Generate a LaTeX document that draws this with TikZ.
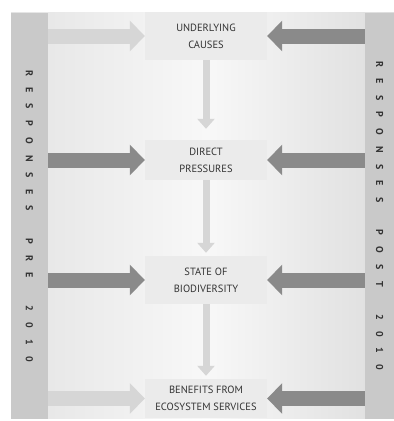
\documentclass[tikz,border=0pt]{standalone}
\usepackage{fontspec}
\setmainfont{PT Sans}
\usetikzlibrary{arrows.meta}
\definecolor{barGray}{HTML}{C9C9C9}
\definecolor{boxGray}{HTML}{EBEBEB}
\definecolor{darkArrow}{HTML}{8A8A8A}
\definecolor{lightArrow}{HTML}{D6D6D6}
\definecolor{txtGray}{HTML}{333333}
\definecolor{bgLeft}{HTML}{E4E4E4}
\definecolor{bgMid}{HTML}{F8F8F8}
\definecolor{bgRight}{HTML}{DDDDDD}
\newcommand{\barfont}{\fontsize{10}{10}\selectfont\bfseries\addfontfeature{LetterSpace=112}}

\begin{document}
\begin{tikzpicture}[x=1pt,y=-1pt,
	stage/.style={fill=boxGray,text=txtGray,minimum width=122pt,align=center,
		font=\fontsize{10.5}{17}\selectfont,inner sep=0pt},
	sidebar/.style={fill=barGray,text=txtGray,minimum height=406pt,inner sep=0pt},
	flow/.style={line width=15pt,-{Triangle[length=15pt,width=30pt]}},
	down/.style={lightArrow,line width=7pt,-{Triangle[length=10pt,width=17pt]}}]
	\useasboundingbox (0,0) rectangle (394,421);
	\shade[left color=bgLeft,right color=bgMid] (11,12) rectangle (206,418);
	\shade[left color=bgMid,right color=bgRight] (206,12) rectangle (394,418);

	% side bars
	\node[sidebar,minimum width=37pt] (pre) at (29.5,216) {\rotatebox{-90}{\barfont RESPONSES\ \ PRE\ \ 2010}};
	\node[sidebar,minimum width=29pt] (post) at (379.5,216) {\rotatebox{-90}{\barfont RESPONSES\ \ POST\ \ 2010}};

	% stages
	\node[stage,minimum height=48pt] (causes) at (206,36) {UNDERLYING\\CAUSES};
	\node[stage,minimum height=40pt] (pressures) at (206,160) {DIRECT\\PRESSURES};
	\node[stage,minimum height=48pt] (state) at (206,280) {STATE OF\\BIODIVERSITY};
	\node[stage,minimum height=39pt] (benefits) at (206,398.5) {BENEFITS FROM\\ECOSYSTEM SERVICES};

	% responses
	\draw[flow,lightArrow] (pre.east |- causes.west) -- (causes.west);
	\draw[flow,darkArrow] (pre.east |- pressures.west) -- (pressures.west);
	\draw[flow,darkArrow] (pre.east |- state.west) -- (state.west);
	\draw[flow,lightArrow] (pre.east |- benefits.west) -- (benefits.west);
	\draw[flow,darkArrow] (post.west |- causes.east) -- (causes.east);
	\draw[flow,darkArrow] (post.west |- pressures.east) -- (pressures.east);
	\draw[flow,darkArrow] (post.west |- state.east) -- (state.east);
	\draw[flow,darkArrow] (post.west |- benefits.east) -- (benefits.east);

	% chain
	\draw[down,shorten >=11pt] (causes) -- (pressures);
	\draw[down,shorten >=3pt] (pressures) -- (state);
	\draw[down,shorten >=3pt] (state) -- (benefits);
\end{tikzpicture}
\end{document}
